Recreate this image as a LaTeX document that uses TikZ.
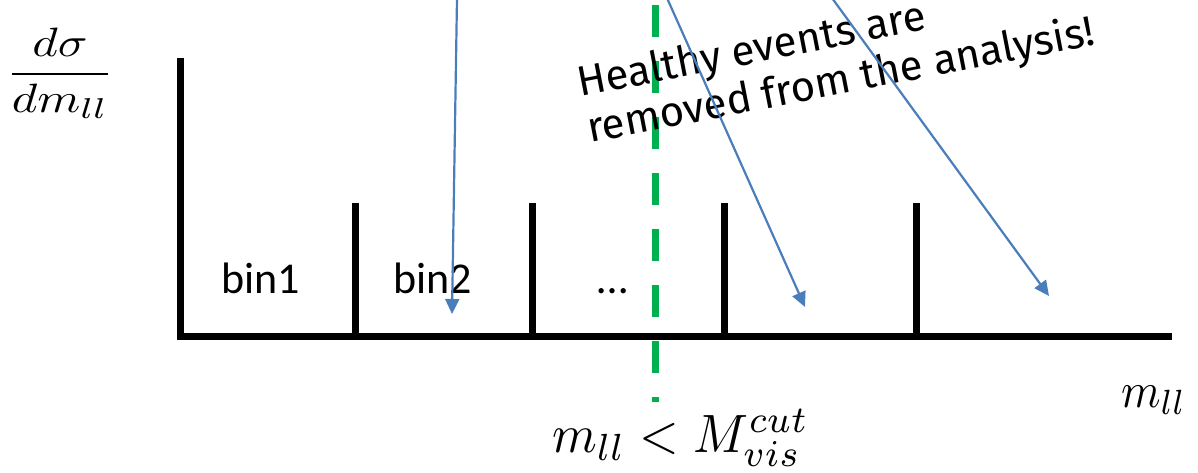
\documentclass[tikz,border=0pt]{standalone}
\usepackage{graphicx}
\usepackage{fontspec}
\newfontfamily\binfont{Carlito}
\newfontfamily\notefont{Fira Sans}
\usetikzlibrary{arrows.meta}
\definecolor{pptblue}{HTML}{4A7EBB}
\definecolor{pptgreen}{HTML}{00B050}
\tikzset{
  axisline/.style={line width=7pt, black, line join=miter},
  divider/.style={line width=7pt, black},
  cutline/.style={line width=7pt, pptgreen, dash pattern=on 32pt off 24pt},
  evarrow/.style={line width=2.2pt, pptblue, -{Triangle[length=15pt,width=14pt]}},
  binlabel/.style={font=\binfont\fontsize{44}{50}\selectfont, inner sep=0pt, anchor=base},
  mathlabel/.style={inner sep=0pt},
  notelabel/.style={font=\notefont\fontsize{42}{48}\selectfont, inner sep=0pt, anchor=base west, rotate=11}
}
\begin{document}
\begin{tikzpicture}[x=1pt,y=-1pt]
\useasboundingbox (0,0) rectangle (1198,472);
\begin{scope}
\clip (0,0) rectangle (1198,472);
% axes
\coordinate (ytop) at (180,58);
\coordinate (origin) at (180,336);
\coordinate (xend) at (1172,336);
\draw[axisline] (ytop) -- (origin) -- (xend);
% bin dividers
\foreach \x/\n in {355.5/a,532/b,724/c,916/d}{
  \coordinate (t\n) at (\x,203);
  \coordinate (b\n) at (\x,336);
  \draw[divider] (t\n) -- (b\n);
}
% cut line
\coordinate (cuttop) at (655,5);
\coordinate (cutbot) at (655,402);
\draw[cutline] (cuttop) -- (cutbot);
% bin labels
\node[binlabel] (bin1) at (261,293) {bin1};
\node[binlabel] (bin2) at (433,293) {bin2};
\node[binlabel] (dots) at (613,293) {\dots};
% axis labels
\node[mathlabel] (ylab) at (60,73) {\scalebox{4.9}[4.1]{$\displaystyle\frac{d\sigma}{dm_{ll}}$}};
\node[mathlabel, anchor=base west] (xlab) at (1121,407) {\scalebox{4.5}[5.0]{$m_{ll}$}};
\node[mathlabel, anchor=base west] (cutlab) at (552,452) {\scalebox{5.1}[5.4]{$m_{ll} < M_{vis}^{cut}$}};
% note
\node[notelabel] (note1) at (580,97) {Healthy events are};
\node[notelabel] (note2) at (590,143) {removed from the analysis!};
% arrows
\coordinate (s1) at (457,-2);
\coordinate (e1) at (452,314);
\coordinate (s2) at (667,-2);
\coordinate (e2) at (805,307);
\coordinate (s3) at (832,-2);
\coordinate (e3) at (1049,296);
\draw[evarrow] (s1) -- (e1);
\draw[evarrow] (s2) -- (e2);
\draw[evarrow] (s3) -- (e3);
\end{scope}
\end{tikzpicture}
\end{document}
